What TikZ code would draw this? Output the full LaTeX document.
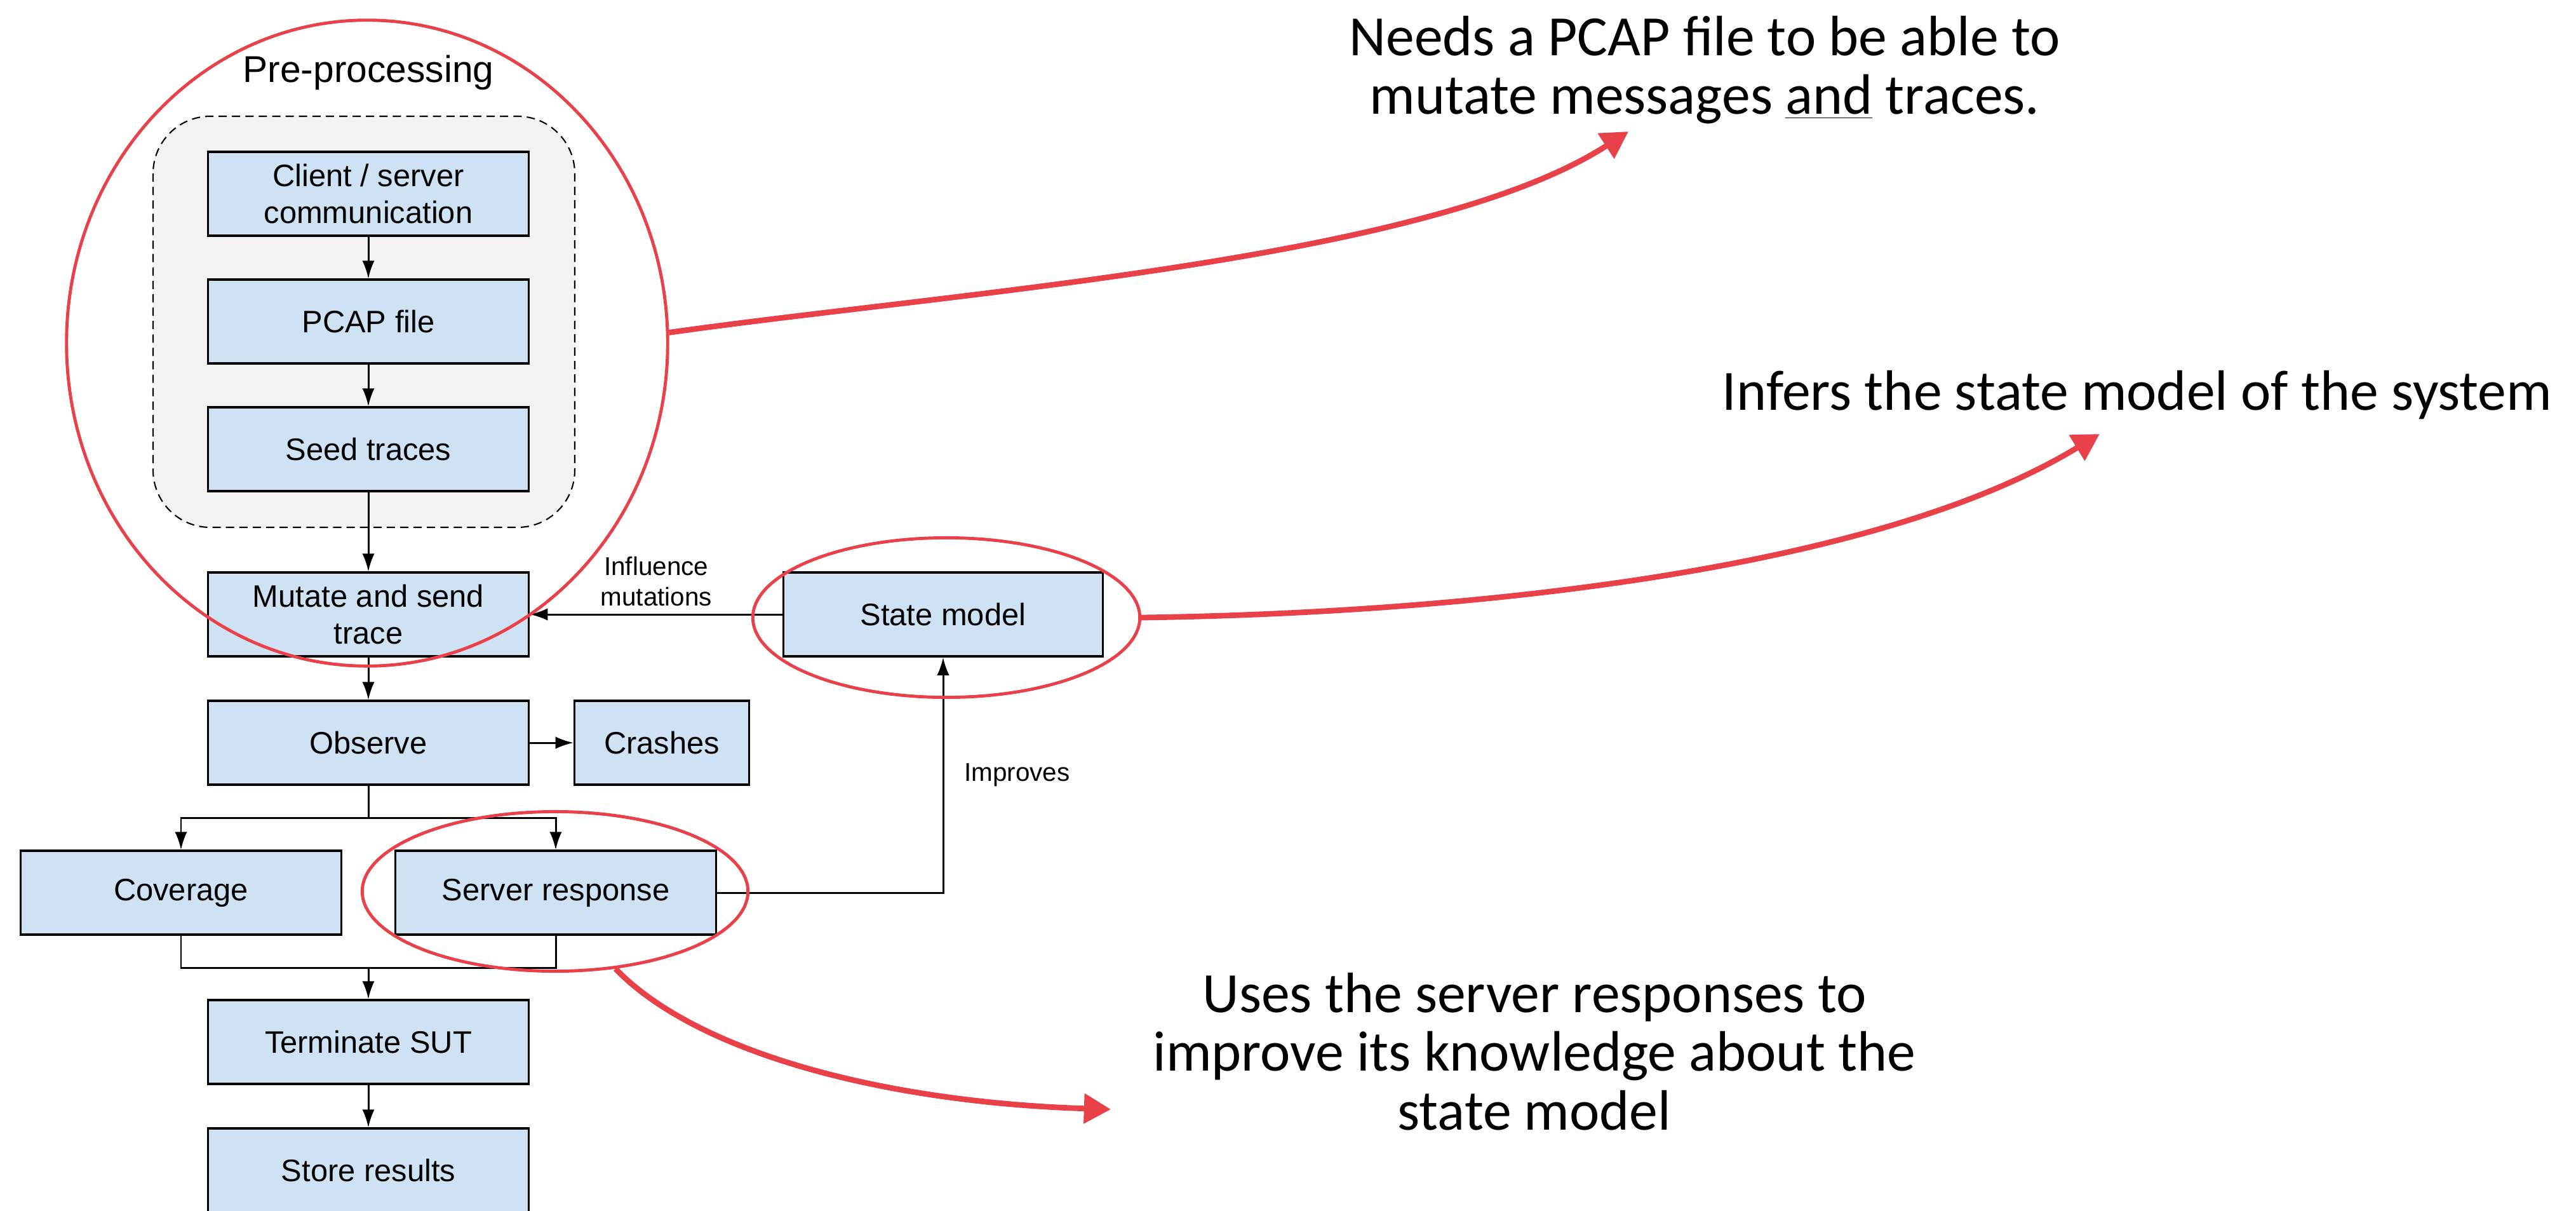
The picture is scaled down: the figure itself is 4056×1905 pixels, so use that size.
\documentclass[tikz,border=0pt]{standalone}
\usepackage{fontspec}
\setmainfont{Liberation Sans}
\newfontfamily\notefont{Carlito}
\usetikzlibrary{arrows.meta,shapes.geometric}
\definecolor{boxblue}{HTML}{CFE2F3}
\definecolor{groupgray}{HTML}{F3F3F3}
\definecolor{markred}{HTML}{E8414A}

\begin{document}
\begin{tikzpicture}[x=0.01cm, y=-0.01cm,
  stage/.style={draw, line width=0.9pt, fill=boxblue, minimum width=5.05cm,
    minimum height=1.32cm, inner sep=0pt, align=center,
    font=\fontsize{13.9}{16.5}\selectfont},
  flow/.style={line width=0.85pt, -{Latex[length=8pt,width=5.5pt]}},
  lbl/.style={align=center, font=\fontsize{11.5}{13.7}\selectfont},
  ring/.style={draw=markred, line width=1.4pt, ellipse, inner sep=0pt},
  note/.style={align=center, font=\notefont\fontsize{25.5}{26.3}\selectfont},
  hint/.style={draw=markred, line width=2.5pt, -{Triangle[length=12pt,width=13pt,fill=markred]}}]
  \useasboundingbox (0,0) rectangle (4056,1905);
  % Pre-processing group
  \draw[dash pattern=on 3.7pt off 2.3pt, line width=0.6pt, fill=groupgray,
    rounded corners=0.9cm] (241,183) rectangle (905,830);
  \node[font=\fontsize{16.7}{20}\selectfont] (pretitle) at (580,114) {Pre-processing};
  \node[stage] (client) at (580,305) {Client / server\\communication};
  \node[stage] (pcap) at (580,506) {PCAP file};
  \node[stage] (seed) at (580,707) {Seed traces};
  % Fuzzing loop
  \node[stage] (mutate) at (580,967) {Mutate and send\\trace};
  \node[stage] (observe) at (580,1169) {Observe};
  \node[stage, minimum width=2.75cm] (crashes) at (1042,1169) {Crashes};
  \node[stage] (coverage) at (285,1405) {Coverage};
  \node[stage] (server) at (875,1405) {Server response};
  \node[stage] (terminate) at (580,1640) {Terminate SUT};
  \node[stage] (store) at (580,1842) {Store results};
  \node[stage, minimum width=5.02cm] (statemodel) at (1485,967) {State model};
  % Connectors
  \coordinate (split) at (580,1287);
  \coordinate (merge) at (580,1523);
  \draw[flow] (client) -- (pcap);
  \draw[flow] (pcap) -- (seed);
  \draw[flow] (seed) -- (mutate);
  \draw[flow] (mutate) -- (observe);
  \draw[flow] (observe) -- (crashes);
  \draw[line width=0.85pt] (observe) -- (split);
  \draw[flow] (split) -| (coverage);
  \draw[flow] (split) -| (server);
  \draw[line width=0.85pt] (coverage) |- (merge) -| (server);
  \draw[flow] (merge) -- (terminate);
  \draw[flow] (terminate) -- (store);
  \draw[flow] (server) -| (statemodel)
    node[lbl, pos=0.75, anchor=west, xshift=0.2cm] {Improves};
  \draw[flow] (statemodel) -- (mutate)
    node[lbl, midway, above] {Influence\\mutations};
  % Red highlights
  \node[ring, minimum width=9.46cm, minimum height=10.16cm] (prering) at (578,540) {};
  \node[ring, minimum width=6.09cm, minimum height=2.51cm] (statering) at (1490,972) {};
  \node[ring, minimum width=6.07cm, minimum height=2.51cm] (serverring) at (874,1403) {};
  % Notes
  \node[note] (pcapnote) at (2684,110)
    {Needs a PCAP file to be able to\\mutate messages \underline{and} traces.};
  \node[note, anchor=base] (modelnote) at (3365,645) {Infers the state model of the system};
  \node[note] (usenote) at (2416,1655)
    {Uses the server responses to\\improve its knowledge about the\\state model};
  \coordinate (pcaptip) at (2564,207);
  \coordinate (modeltip) at (3306,683);
  \coordinate (usetip) at (1749,1746);
  \draw[hint] (prering.2) .. controls (1500,460) and (2250,410) .. (pcaptip);
  \draw[hint] (statering.east) .. controls (2300,965) and (2950,900) .. (modeltip);
  \draw[hint] (serverring.-52) .. controls (1100,1660) and (1400,1735) .. (usetip);
\end{tikzpicture}
\end{document}
